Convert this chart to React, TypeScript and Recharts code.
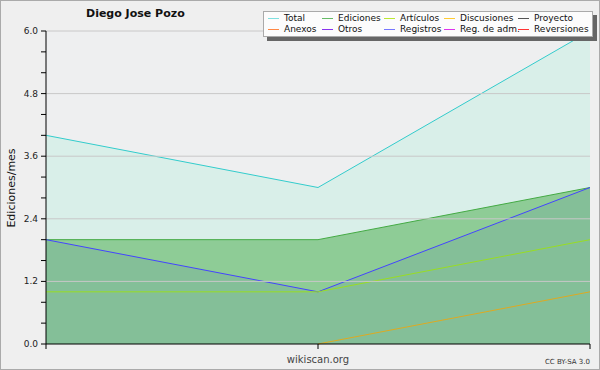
import React from "react";
import {
  AreaChart,
  Area,
  XAxis,
  YAxis,
  ReferenceLine,
} from "recharts";

const months = ["2019-01", "2019-02", "2019-03"];
const totalValues = [4, 3, 6];
const edicionesValues = [2, 2, 3];
const registrosValues = [2, 1, 3];
const articulosValues = [1, 1, 2];
const discusionesValues = [null, 0, 1];

const yTicks = [0, 0.4, 0.8, 1.2, 1.6, 2.0, 2.4, 2.8, 3.2, 3.6, 4.0, 4.4, 4.8, 5.2, 5.6, 6.0];
const yMajor = [0, 1.2, 2.4, 3.6, 4.8, 6.0];

const legendNames = [
  "Total", "Ediciones", "Artículos", "Discusiones", "Proyecto",
  "Anexos", "Otros", "Registros", "Reg. de adm.", "Reversiones",
];
const legendColors = [
  "#7fe0e0", "#66bb66", "#bbe833", "#ffcc33", "#555555",
  "#ff8844", "#8833ee", "#7777ff", "#dd33ee", "#ff3333",
];

const data = months.map((m, i) => ({
  month: m,
  total: totalValues[i],
  ediciones: edicionesValues[i],
  registros: registrosValues[i],
  articulos: articulosValues[i],
  discusiones: discusionesValues[i],
}));

const FONT = "DejaVu Sans, sans-serif";
const colX = [4, 58, 120, 180, 254];

// legend drawn on top of the chart, like the original png
function LegendBox() {
  return (
    <div style={{ position: "absolute", left: 262, top: 10, width: 334, height: 30 }}>
      <div style={{ position: "absolute", left: 4, top: 4, width: 330, height: 26, background: "#666" }} />
      <div
        style={{
          position: "absolute", left: 0, top: 0, width: 328, height: 24,
          background: "#fcfcfc", border: "1px solid #aaa",
        }}
      >
        {legendNames.map((name, i) => {
          const col = i % 5;
          const row = Math.floor(i / 5);
          return (
            <div
              key={name}
              style={{
                position: "absolute", left: colX[col], top: 1 + row * 11,
                display: "flex", alignItems: "center", fontFamily: FONT,
                fontSize: 9, lineHeight: "11px", color: "#111", whiteSpace: "nowrap",
              }}
            >
              <div style={{ width: 11, height: 1, flexShrink: 0, background: legendColors[i], marginRight: 5 }} />
              {name}
            </div>
          );
        })}
      </div>
    </div>
  );
}

function YTick(props: any) {
  const { x, y, payload } = props;
  if (!yMajor.includes(payload.value)) return null;
  return (
    <text x={x - 1} y={y + 3} textAnchor="end" fontSize={9} fontFamily={FONT} fill="#222">
      {payload.value.toFixed(1)}
    </text>
  );
}

export default function App() {
  return (
    <div
      style={{
        position: "absolute", left: 0, top: 0, width: 598, height: 368,
        background: "#efefef", border: "1px solid #aaa",
      }}
    >
      <AreaChart
        width={598}
        height={368}
        data={data}
        margin={{ top: 30, right: 9, left: 0, bottom: 0 }}
        style={{ position: "absolute", left: 0, top: 0 }}
      >
        <rect x={45} y={30} width={544} height={313} fill="#eeeff0" />
        {yMajor.slice(1).map((v) => (
          <ReferenceLine key={v} y={v} stroke="#c8c8c8" strokeWidth={1} />
        ))}
        <XAxis
          dataKey="month"
          tickFormatter={() => ""}
          stroke="#000"
          tickSize={5}
          height={25}
          label={{ value: "wikiscan.org", position: "insideBottom", offset: 6, fontSize: 10, fontFamily: FONT, fill: "#444" }}
        />
        <YAxis
          type="number"
          domain={[0, 6]}
          ticks={yTicks}
          interval={0}
          stroke="#000"
          tickSize={5}
          width={45}
          tick={<YTick />}
        />
        <Area type="linear" dataKey="total" stroke="#33cccc" strokeWidth={1} fill="#40f0c0" fillOpacity={0.12} isAnimationActive={false} dot={false} />
        <Area type="linear" dataKey="ediciones" stroke="#44aa44" strokeWidth={1} fill="#44aa44" fillOpacity={0.5} isAnimationActive={false} dot={false} />
        <Area type="linear" dataKey="registros" stroke="#4444ff" strokeWidth={1} fill="#4466aa" fillOpacity={0.12} isAnimationActive={false} dot={false} />
        <Area type="linear" dataKey="articulos" stroke="#99dd22" strokeWidth={1} fill="none" isAnimationActive={false} dot={false} />
        <Area type="linear" dataKey="discusiones" stroke="#ddaa22" strokeWidth={1} fill="none" isAnimationActive={false} dot={false} />
      </AreaChart>
      <div style={{ position: "absolute", left: 85, top: 6, fontFamily: FONT, fontWeight: "bold", fontSize: 11, color: "#111" }}>
        Diego Jose Pozo
      </div>
      <div
        style={{
          position: "absolute", left: 10, top: 187, fontFamily: FONT, fontSize: 11, color: "#111",
          transform: "translate(-50%, -50%) rotate(-90deg)", whiteSpace: "nowrap",
        }}
      >
        Ediciones/mes
      </div>
      <div style={{ position: "absolute", right: 9, bottom: 3, fontFamily: FONT, fontSize: 7, color: "#333" }}>
        CC BY-SA 3.0
      </div>
      <LegendBox />
    </div>
  );
}
